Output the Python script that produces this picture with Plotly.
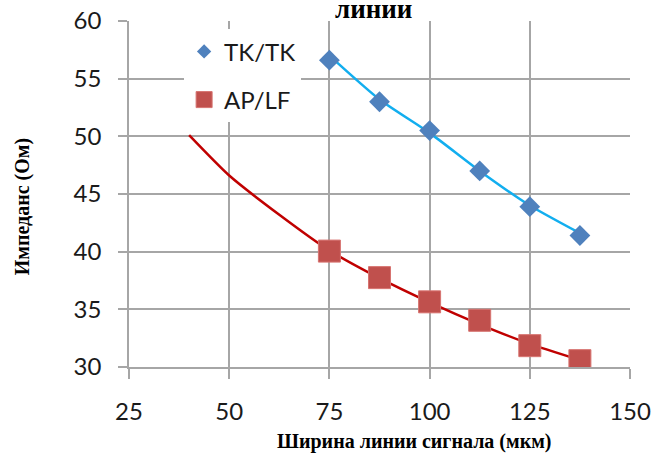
import plotly.graph_objects as go

# Data
width_um = [75, 87.5, 100, 112.5, 125, 137.5]
tk_tk = [56.6, 53.0, 50.5, 47.0, 43.9, 41.4]
ap_lf = [40.05, 37.75, 35.65, 34.05, 31.85, 30.55]

# Trend curves as drawn in the reference
tk_trend_x = [75, 87.5, 100, 112.5, 125, 137.5]
tk_trend_y = [57.0, 53.2, 50.3, 47.0, 44.0, 41.6]
ap_trend_x = [40, 50, 62.5, 75, 87.5, 100, 112.5, 125, 137.5]
ap_trend_y = [50.1, 46.6, 43.2, 40.1, 37.7, 35.6, 33.7, 32.0, 30.6]

x_ticks = [25, 50, 75, 100, 125, 150]
y_ticks = [30, 35, 40, 45, 50, 55, 60]

title_text = "линии"
x_title = "Ширина линии сигнала (мкм)"
y_title = "Импеданс (Ом)"
names = ["TK/TK", "AP/LF"]

BLUE = "#4F81BD"
RED = "#C0504D"
GRID = "#A6A6A6"
TICKFONT = dict(family="Lato, Carlito, sans-serif", size=24, color="#1a1a1a")
SERIF = "Liberation Serif, Times New Roman, serif"

fig = go.Figure()

fig.add_trace(go.Scatter(x=tk_trend_x, y=tk_trend_y, mode="lines",
                         line=dict(color="#12AEEF", width=2.5, shape="spline", smoothing=0.6),
                         showlegend=False, hoverinfo="skip"))
fig.add_trace(go.Scatter(x=ap_trend_x, y=ap_trend_y, mode="lines",
                         line=dict(color="#C00000", width=2.5, shape="spline", smoothing=0.6),
                         showlegend=False, hoverinfo="skip"))

fig.add_trace(go.Scatter(x=width_um, y=tk_tk, mode="markers", name=names[0],
                         marker=dict(symbol="diamond", size=16, color=BLUE,
                                     line=dict(width=0)),
                         showlegend=False))
fig.add_trace(go.Scatter(x=width_um, y=ap_lf, mode="markers", name=names[1],
                         marker=dict(symbol="square", size=22, color=RED,
                                     line=dict(width=1, color="#D77370")),
                         showlegend=False))

# legend entries
fig.add_trace(go.Scatter(x=[None], y=[None], mode="markers", name=names[0],
                         legendgroup="a",
                         marker=dict(symbol="diamond", size=11, color=BLUE)))
fig.add_trace(go.Scatter(x=[None], y=[None], mode="markers", name=names[1],
                         legendgroup="b",
                         marker=dict(symbol="square", size=16, color=RED,
                                     line=dict(width=1, color="#D77370"))))

axis_common = dict(
    showgrid=True, gridcolor=GRID, gridwidth=1.5,
    showline=True, linecolor=GRID, linewidth=1.5,
    ticks="outside", tickcolor=GRID, tickwidth=1.5,
    zeroline=False, automargin=False,
    tickfont=TICKFONT,
)

fig.update_xaxes(range=[25, 150], tickvals=x_ticks, ticklen=10,
                 ticklabelstandoff=12, **axis_common)
fig.update_yaxes(range=[30, 60], tickvals=y_ticks, ticklen=9,
                 ticklabelstandoff=12, **axis_common)

fig.update_layout(
    width=652, height=456,
    margin=dict(l=129, r=22, t=21, b=89, autoexpand=False),
    paper_bgcolor="white", plot_bgcolor="white",
    showlegend=True,
    legend=dict(x=0.11, y=0.976, xanchor="left", yanchor="top",
                bgcolor="white", borderwidth=0,
                font=TICKFONT,
                tracegroupgap=14, itemwidth=30),
    annotations=[
        dict(text="<b>" + title_text + "</b>", xref="paper", yref="paper", x=0.489, y=1.036,
             xanchor="center", yanchor="middle", showarrow=False,
             font=dict(family=SERIF, size=27, color="black")),
        dict(text="<b>" + x_title + "</b>", xref="paper", yref="paper", x=0.569, y=-0.214,
             xanchor="center", yanchor="middle", showarrow=False,
             font=dict(family=SERIF, size=20, color="black")),
        dict(text="<b>" + y_title + "</b>", xref="paper", yref="paper", x=-0.212, y=0.464,
             xanchor="center", yanchor="middle", showarrow=False, textangle=-90,
             font=dict(family=SERIF, size=20, color="black")),
    ],
)

fig.write_html("out.html", config={"displayModeBar": False},
               post_script="document.body.style.margin='0';document.body.style.overflow='hidden';")
